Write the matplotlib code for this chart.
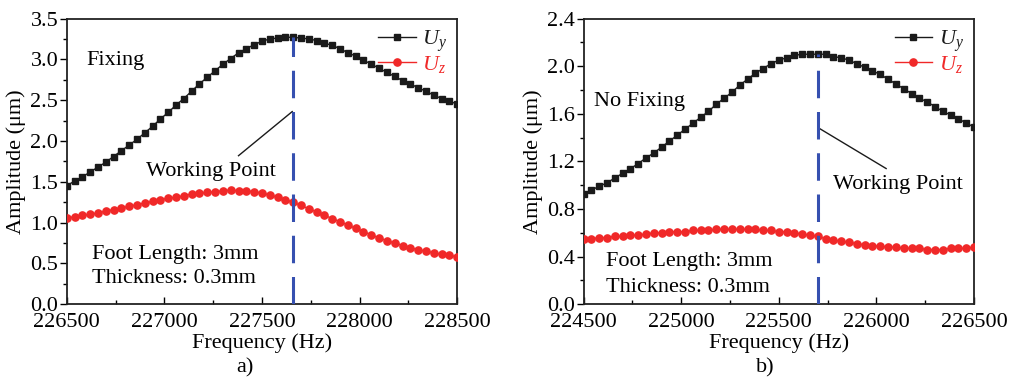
import numpy as np
import matplotlib
matplotlib.use("Agg")
import matplotlib.pyplot as plt
from matplotlib.ticker import AutoMinorLocator

plt.rcParams['font.family'] = ['Liberation Serif', 'DejaVu Serif']
plt.rcParams['mathtext.fontset'] = 'custom'
plt.rcParams['mathtext.it'] = 'Liberation Serif:italic'
plt.rcParams['mathtext.rm'] = 'Liberation Serif'

# ---- data: panel a (Fixing) ----
freq_a_start = 226500
freq_step = 40
uy_a = [1.45, 1.51, 1.56, 1.62, 1.68, 1.74, 1.81, 1.88, 1.95, 2.02,
        2.10, 2.18, 2.27, 2.35, 2.44, 2.52, 2.61, 2.70, 2.78, 2.86,
        2.94, 3.01, 3.08, 3.13, 3.18, 3.22, 3.25, 3.26, 3.27, 3.27,
        3.26, 3.25, 3.23, 3.20, 3.17, 3.13, 3.08, 3.04, 2.99, 2.94,
        2.89, 2.84, 2.79, 2.74, 2.70, 2.65, 2.61, 2.56, 2.52, 2.49, 2.45]
uz_a = [1.06, 1.07, 1.09, 1.10, 1.12, 1.14, 1.16, 1.18, 1.20, 1.22,
        1.24, 1.26, 1.28, 1.30, 1.31, 1.33, 1.35, 1.36, 1.37, 1.38,
        1.39, 1.40, 1.39, 1.39, 1.38, 1.36, 1.34, 1.31, 1.28, 1.25,
        1.21, 1.17, 1.13, 1.09, 1.05, 1.01, 0.97, 0.93, 0.89, 0.85,
        0.81, 0.78, 0.75, 0.72, 0.69, 0.67, 0.65, 0.63, 0.61, 0.60, 0.58]
work_a = 227660
work_a_amp = 3.27

# ---- data: panel b (No Fixing) ----
freq_b_start = 224500
uy_b = [0.93, 0.96, 0.99, 1.02, 1.06, 1.10, 1.14, 1.18, 1.23, 1.27,
        1.32, 1.37, 1.42, 1.47, 1.52, 1.57, 1.62, 1.68, 1.73, 1.78,
        1.84, 1.89, 1.94, 1.98, 2.02, 2.05, 2.07, 2.09, 2.10, 2.10,
        2.10, 2.10, 2.08, 2.07, 2.05, 2.02, 1.99, 1.96, 1.93, 1.89,
        1.85, 1.81, 1.77, 1.73, 1.70, 1.66, 1.62, 1.59, 1.56, 1.52, 1.49]
uz_b = [0.55, 0.55, 0.56, 0.56, 0.57, 0.57, 0.58, 0.58, 0.59, 0.60,
        0.60, 0.61, 0.61, 0.61, 0.62, 0.62, 0.62, 0.63, 0.63, 0.63,
        0.63, 0.63, 0.63, 0.62, 0.62, 0.61, 0.61, 0.60, 0.59, 0.58,
        0.57, 0.55, 0.54, 0.53, 0.52, 0.51, 0.50, 0.49, 0.49, 0.48,
        0.48, 0.47, 0.47, 0.47, 0.46, 0.46, 0.46, 0.47, 0.47, 0.47, 0.48]
work_b = 225700
work_b_amp = 2.10

xticks_a = [226500, 227000, 227500, 228000, 228500]
xticks_b = [224500, 225000, 225500, 226000, 226500]
yticks_a = [0.0, 0.5, 1.0, 1.5, 2.0, 2.5, 3.0, 3.5]
yticks_b = [0.0, 0.4, 0.8, 1.2, 1.6, 2.0, 2.4]

BLACK = '#1a1a1a'
RED = '#f02828'
BLUE = '#3650b0'
FS = 16

fig = plt.figure(figsize=(10.19, 3.81), dpi=100)
W = 390.5 / 1019
H = (304.3 - 18.5) / 381
bottom = 1 - 304.3 / 381
ax_a = fig.add_axes([66.7 / 1019, bottom, W, H])
ax_b = fig.add_axes([583.5 / 1019, bottom, W, H])


def draw(ax, f0, uy, uz, work, work_amp, xticks, yticks, ytickfmt):
    n = len(uy)
    freqs = f0 + freq_step * np.arange(n)
    ax.plot(freqs, uy, '-', color=BLACK, lw=1.0, marker='s', ms=4.6,
            mec=BLACK, mfc=BLACK, label='$U_y$', zorder=3)
    ax.plot(freqs, uz, '-', color=RED, lw=1.0, marker='o', ms=5.2,
            mec=RED, mfc=RED, label='$U_z$', zorder=3)
    ax.plot([work, work], [0, work_amp], color=BLUE, lw=2.2,
            dashes=(9, 4.5), zorder=4)
    ax.set_xlim(xticks[0], xticks[-1])
    ax.set_ylim(yticks[0], yticks[-1])
    ax.set_xticks(xticks)
    ax.set_yticks(yticks)
    ax.set_yticklabels([ytickfmt.format(v) for v in yticks])
    ax.xaxis.set_minor_locator(AutoMinorLocator(2))
    ax.yaxis.set_minor_locator(AutoMinorLocator(2))
    ax.tick_params(axis='x', which='both', direction='in', labelsize=FS, pad=6.5)
    ax.tick_params(axis='x', which='major', length=5, width=1)
    ax.tick_params(axis='x', which='minor', length=3, width=1)
    ax.tick_params(axis='y', which='both', direction='out', labelsize=FS, pad=1)
    ax.tick_params(axis='y', which='major', length=5, width=1)
    ax.tick_params(axis='y', which='minor', length=3, width=1)
    for s in ax.spines.values():
        s.set_linewidth(1.3)
        s.set_color('#222222')
    ax.set_xlabel('Frequency (Hz)', fontsize=FS, labelpad=0.5)
    ax.set_ylabel('Amplitude (μm)', fontsize=FS, labelpad=3)
    leg = ax.legend(loc='upper right', frameon=False, fontsize=FS,
                    handlelength=1.7, handletextpad=0.3, labelspacing=0.0,
                    borderaxespad=0.05, bbox_to_anchor=(1.0, 1.0))
    for t, c in zip(leg.get_texts(), [BLACK, RED]):
        t.set_color(c)


draw(ax_a, freq_a_start, uy_a, uz_a, work_a, work_a_amp, xticks_a, yticks_a, '{:.1f}')
draw(ax_b, freq_b_start, uy_b, uz_b, work_b, work_b_amp, xticks_b, yticks_b, '{:.1f}')

# annotations panel a
ax_a.text(226600, 2.98, 'Fixing', fontsize=FS, va='center', ha='left')
ax_a.plot([227655, 227380], [2.36, 1.82], color=BLACK, lw=1.0)
ax_a.text(227240, 1.63, 'Working Point', fontsize=FS, va='center', ha='center')
ax_a.text(226630, 0.61, 'Foot Length: 3mm', fontsize=FS, va='center', ha='left')
ax_a.text(226630, 0.31, 'Thickness: 0.3mm', fontsize=FS, va='center', ha='left')

# annotations panel b
ax_b.text(224555, 1.70, 'No Fixing', fontsize=FS, va='center', ha='left')
ax_b.plot([225710, 226050], [1.475, 1.14], color=BLACK, lw=1.0)
ax_b.text(226110, 1.01, 'Working Point', fontsize=FS, va='center', ha='center')
ax_b.text(224615, 0.36, 'Foot Length: 3mm', fontsize=FS, va='center', ha='left')
ax_b.text(224615, 0.145, 'Thickness: 0.3mm', fontsize=FS, va='center', ha='left')

fig.text(245 / 1019, 1 - 368 / 381, 'a)', fontsize=FS, ha='center', va='center')
fig.text(765 / 1019, 1 - 368 / 381, 'b)', fontsize=FS, ha='center', va='center')

fig.savefig('out.png', dpi=100)
